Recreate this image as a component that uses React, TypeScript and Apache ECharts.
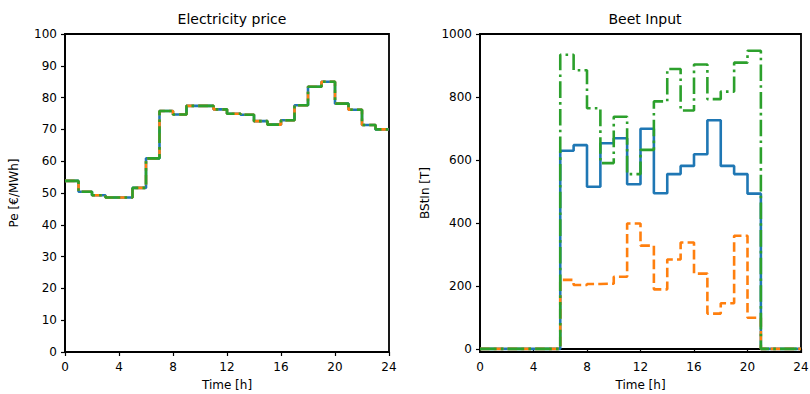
import React, { useEffect, useRef } from "react";
import * as echarts from "echarts";

// Hourly electricity price [€/MWh], hours 0..23 (same price for every case)
const price: number[] = [
  53.8, 50.4, 49.3, 48.6, 48.6, 51.6, 60.9, 75.8, 74.7, 77.4, 77.4, 76.3,
  74.9, 74.6, 72.6, 71.5, 72.9, 77.6, 83.4, 85.0, 78.1, 76.2, 71.4, 70.0,
];

// Hourly beet input [T], hours 0..23, one array per case
const beetCase1: number[] = [
  0, 0, 0, 0, 0, 0, 629, 647, 515, 653, 669, 523,
  699, 494, 555, 581, 618, 726, 581, 555, 493, 0, 0, 0,
];
const beetCase2: number[] = [
  0, 0, 0, 0, 0, 0, 219, 203, 206, 207, 229, 398,
  328, 189, 284, 338, 239, 112, 145, 359, 99, 0, 0, 0,
];
const beetCase3: number[] = [
  0, 0, 0, 0, 0, 0, 934, 885, 764, 590, 737, 555,
  632, 786, 889, 757, 903, 793, 817, 909, 947, 0, 0, 0,
];

const hourTicks: number[] = [0, 4, 8, 12, 16, 20, 24];
const priceTicks: number[] = [0, 10, 20, 30, 40, 50, 60, 70, 80, 90, 100];
const beetTicks: number[] = [0, 200, 400, 600, 800, 1000];

const COLORS = ["#1f77b4", "#ff7f0e", "#2ca02c"];
const LINE_W = 2.6;
const DASHES: any[] = ["solid", [9.6, 4.2], [16.6, 4.2, 2.6, 4.2]];
const FONT = "DejaVu Sans";

// Post-step data: each hourly value holds until the next hour
function stepData(values: number[]): number[][] {
  const pts = values.map((v, i) => [i, v]);
  pts.push([values.length, values[values.length - 1]]);
  return pts;
}

const plainNumber = (v: number) => String(v);

function xAxisFor(gridIndex: number) {
  return {
    type: "value",
    gridIndex,
    min: 0,
    max: 24,
    interval: 4,
    name: "Time [h]",
    nameLocation: "middle",
    nameGap: 27,
    nameTextStyle: { color: "#000", fontFamily: FONT, fontSize: 12 },
    axisLine: { show: true, lineStyle: { color: "#000", width: 1.8 } },
    axisTick: { show: true, inside: false, length: 4, lineStyle: { color: "#000", width: 1.2 } },
    axisLabel: {
      color: "#000",
      fontFamily: FONT,
      fontSize: 12,
      margin: 9,
      customValues: hourTicks,
      formatter: plainNumber,
    },
    splitLine: { show: false },
  };
}

function yAxisFor(gridIndex: number, min: number, max: number, ticks: number[], name: string, gap: number) {
  return {
    type: "value",
    gridIndex,
    min,
    max,
    name,
    nameLocation: "middle",
    nameGap: gap,
    nameTextStyle: { color: "#000", fontFamily: FONT, fontSize: 12 },
    axisLine: { show: true, lineStyle: { color: "#000", width: 1.8 } },
    axisTick: { show: true, inside: false, length: 4, lineStyle: { color: "#000", width: 1.2 }, customValues: ticks },
    axisLabel: {
      color: "#000",
      fontFamily: FONT,
      fontSize: 12,
      margin: 8,
      customValues: ticks,
      formatter: plainNumber,
    },
    splitLine: { show: false },
  };
}

function lineSeries(name: string, values: number[], idx: number, axisIndex: number) {
  return {
    type: "line",
    name,
    xAxisIndex: axisIndex,
    yAxisIndex: axisIndex,
    step: "end",
    showSymbol: false,
    symbol: "none",
    data: stepData(values),
    lineStyle: { color: COLORS[idx], width: LINE_W, type: DASHES[idx], cap: "butt" },
    itemStyle: { color: COLORS[idx] },
    z: 2 + idx,
  };
}

export default function App() {
  const ref = useRef<HTMLDivElement>(null);

  useEffect(() => {
    if (!ref.current) return;
    document.body.style.margin = "0";
    const chart = echarts.init(ref.current, null, { renderer: "svg" });
    chart.setOption({
      animation: false,
      backgroundColor: "#fff",
      textStyle: { fontFamily: FONT },
      title: [
        {
          text: "Electricity price",
          left: 227,
          top: 7,
          textAlign: "center",
          textStyle: { color: "#000", fontFamily: FONT, fontSize: 14, fontWeight: "normal" },
        },
        {
          text: "Beet Input",
          left: 640,
          top: 7,
          textAlign: "center",
          textStyle: { color: "#000", fontFamily: FONT, fontSize: 14, fontWeight: "normal" },
        },
      ],
      grid: [
        {
          left: 65, top: 34, width: 324, height: 318,
          show: true, borderColor: "#000", borderWidth: 1.8,
          outerBoundsMode: "none", containLabel: false,
        },
        {
          left: 480, top: 34, width: 321, height: 318,
          show: true, borderColor: "#000", borderWidth: 1.8,
          outerBoundsMode: "none", containLabel: false,
        },
      ],
      xAxis: [xAxisFor(0), xAxisFor(1)],
      yAxis: [
        yAxisFor(0, 0, 100, priceTicks, "Pe [€/MWh]", 45),
        yAxisFor(1, -10, 1000, beetTicks, "BStIn [T]", 49),
      ],
      series: [
        lineSeries("Case 1", price, 0, 0),
        lineSeries("Case 2", price, 1, 0),
        lineSeries("Case 3", price, 2, 0),
        lineSeries("Case 1", beetCase1, 0, 1),
        lineSeries("Case 2", beetCase2, 1, 1),
        lineSeries("Case 3", beetCase3, 2, 1),
      ],
    });
    return () => chart.dispose();
  }, []);

  return <div ref={ref} style={{ width: 810, height: 394 }} />;
}
